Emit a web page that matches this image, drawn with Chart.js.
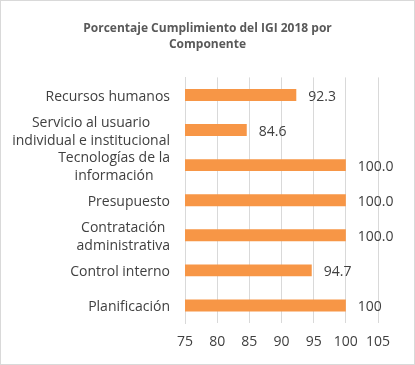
<!DOCTYPE html>
<html><head><meta charset="utf-8">
<script src="https://cdn.jsdelivr.net/npm/chart.js@4/dist/chart.umd.min.js"></script>
<style>
html,body{margin:0;padding:0;background:#fff;}
#wrap{width:415px;height:365px;box-sizing:border-box;border:1px solid #d9d9d9;position:relative;}
</style></head>
<body><div id="wrap"><canvas id="c" width="413" height="363"></canvas></div>
<script>
const categories = [
  ["Recursos humanos"],
  ["Servicio al usuario", "individual e institucional"],
  ["Tecnologías de la", "información"],
  ["Presupuesto"],
  ["Contratación", "administrativa"],
  ["Control interno"],
  ["Planificación"]
];
const values = [92.3, 84.6, 100.0, 100.0, 100.0, 94.7, 100];
const valueLabels = ["92.3", "84.6", "100.0", "100.0", "100.0", "94.7", "100"];
const titleLines = ["Porcentaje Cumplimiento del IGI 2018 por", "Componente"];

const FONT = "'Open Sans', sans-serif";

const dataLabels = {
  id: 'dataLabels',
  afterDatasetsDraw(chart) {
    const ctx = chart.ctx;
    const meta = chart.getDatasetMeta(0);
    ctx.save();
    ctx.font = "14px " + FONT;
    ctx.fillStyle = "#404040";
    ctx.textBaseline = "middle";
    ctx.textAlign = "left";
    meta.data.forEach((bar, i) => {
      ctx.fillText(valueLabels[i], bar.x + 12, bar.y + 2);
    });
    ctx.restore();
  }
};

// category labels: block right-aligned, lines centred within the block (Excel style)
const catLabels = {
  id: 'catLabels',
  afterDraw(chart) {
    const ctx = chart.ctx;
    const ys = chart.scales.y;
    const rightEdge = ys.right - 15;
    const lh = 18;
    ctx.save();
    ctx.font = "14px " + FONT;
    ctx.fillStyle = "#404040";
    ctx.textBaseline = "middle";
    ctx.textAlign = "center";
    categories.forEach((lines, i) => {
      const yc = ys.getPixelForValue(i) + 2;
      const w = Math.max(...lines.map(l => ctx.measureText(l).width));
      const cx = rightEdge - w / 2;
      const y0 = yc - (lines.length - 1) * lh / 2;
      lines.forEach((l, j) => ctx.fillText(l, cx, y0 + j * lh));
    });
    ctx.restore();
  }
};

new Chart(document.getElementById('c'), {
  type: 'bar',
  data: {
    labels: categories,
    datasets: [{
      data: values,
      backgroundColor: '#F79646',
      borderWidth: 0,
      barPercentage: 0.68,
      categoryPercentage: 0.5
    }]
  },
  options: {
    indexAxis: 'y',
    responsive: false,
    animation: false,
    layout: { padding: 0 },
    plugins: {
      legend: { display: false },
      tooltip: { enabled: false },
      title: {
        display: true,
        text: titleLines,
        color: '#595959',
        font: { family: FONT, size: 12, weight: 'bold', lineHeight: 1.35 },
        padding: { top: 19, bottom: 25 }
      }
    },
    scales: {
      x: {
        min: 75, max: 105,
        ticks: { stepSize: 5, color: '#404040', font: { family: FONT, size: 14 }, padding: 11 },
        grid: { color: '#d9d9d9', drawTicks: false },
        border: { display: false },
        afterFit(scale) { scale.height = 41; }
      },
      y: {
        ticks: { display: false },
        grid: { display: false },
        border: { display: true, color: '#d9d9d9' },
        afterFit(scale) { scale.width = 184; }
      },
      yRight: {
        type: 'category',
        position: 'right',
        display: true,
        ticks: { display: false },
        grid: { display: false },
        border: { display: false },
        afterFit(scale) { scale.width = 36; }
      }
    }
  },
  plugins: [dataLabels, catLabels]
});
</script></body></html>
